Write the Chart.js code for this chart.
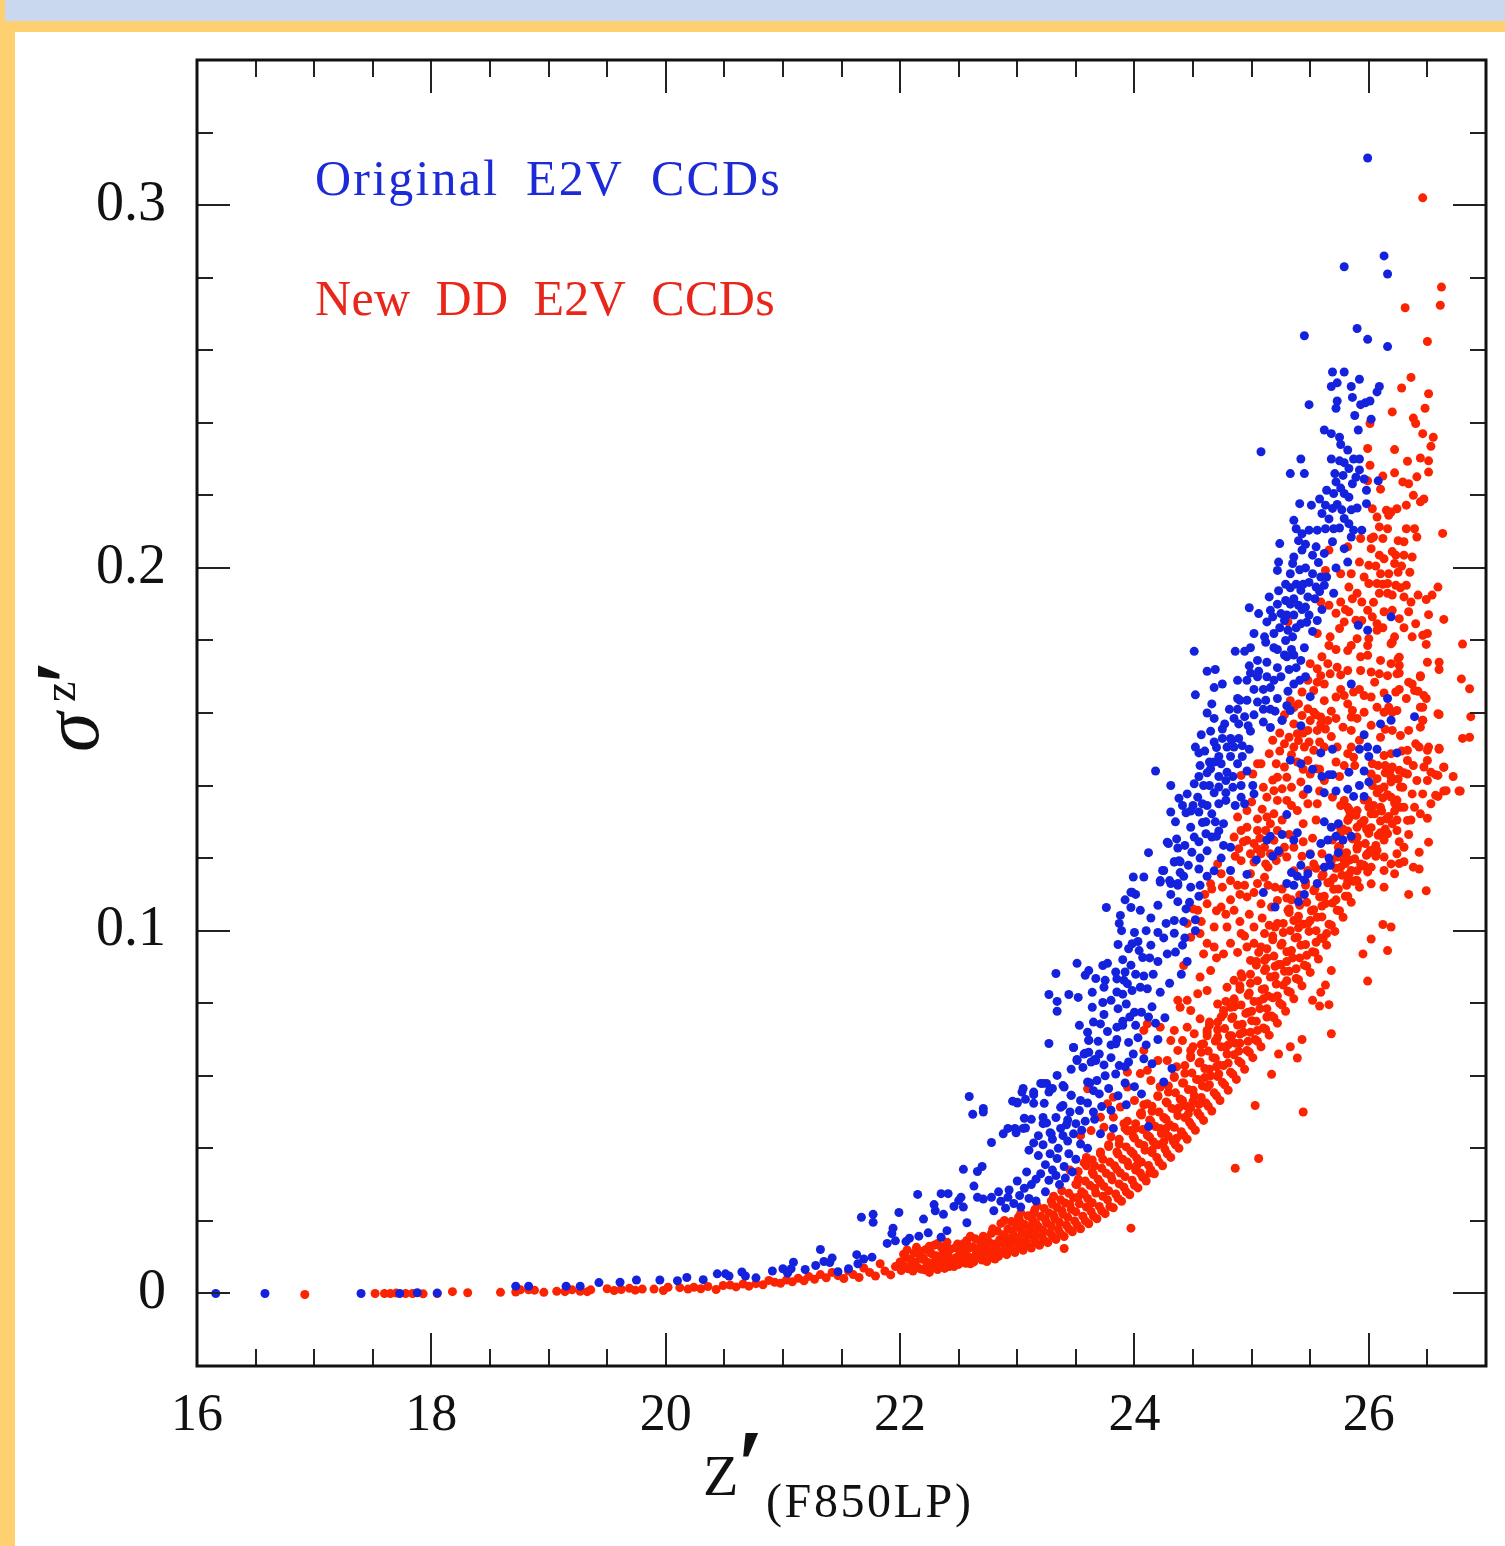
<!DOCTYPE html>
<html>
<head>
<meta charset="utf-8">
<title>z' photometric error</title>
<script src="https://cdn.jsdelivr.net/npm/chart.js@4"></script>
<style>
html, body { margin: 0; padding: 0; background: #ffd070; }
#band { position: absolute; left: 5px; top: 0; width: 1500px; height: 21px; background: #c9d8ee; }
#panel { position: absolute; left: 15px; top: 32px; width: 1490px; height: 1514px; background: #fff; }
#wrap { position: absolute; left: 0; top: 0; width: 1505px; height: 1546px; }
</style>
</head>
<body>
<div id="band"></div>
<div id="panel"></div>
<div id="wrap"><canvas id="chart" width="1505" height="1546"></canvas></div>
<script>
// Tick values
const xMajorTicks = [16, 18, 20, 22, 24, 26];
const xMinorTicks = [16.5, 17, 17.5, 18.5, 19, 19.5, 20.5, 21, 21.5, 22.5, 23, 23.5, 24.5, 25, 25.5, 26.5];
const yMajorTicks = [0, 0.1, 0.2, 0.3];
const yMinorTicks = [0.02, 0.04, 0.06, 0.08, 0.12, 0.14, 0.16, 0.18, 0.22, 0.24, 0.26, 0.28, 0.32];

// [z', sigma]
const originalCcds = [
[16.16,0],[16.58,0],[17.4,0],[17.73,0],[17.88,.0002],[18.05,.0001],[18.72,.002],[18.83,.002],[19.15,.002],[19.27,.002],[19.43,.003],
[19.61,.0031],[19.75,.0037],[19.95,.0037],[20.1,.0035],[20.18,.0044],[20.32,.0038],[20.44,.0054],[20.51,.0054],[20.54,.0048],[20.65,.0059],[20.68,.0048],[20.77,.0043],[20.91,.0062],[21,.0068],[21.04,.0056],[21.09,.0086],[21.07,.0068],[21.19,.0066],[21.28,.0077],[21.32,.0121],[21.35,.0088],[21.42,.0098],[21.4,.0085],[21.47,.006],[21.56,.0068],[21.63,.0107],[21.64,.0082],[21.69,.0095],[21.76,.01],
[21.67,.021],[21.77,.0218],[21.77,.0196],[21.99,.0223],[21.94,.018],[21.93,.0165],[21.89,.0138],[21.96,.0145],[22.05,.0143],[22.08,.0152],[22.16,.0158],[22.2,.0205],[22.24,.0167],[22.29,.0245],[22.3,.0228],[22.37,.0218],[22.35,.0155],[22.4,.0173],[22.46,.024],[22.5,.0256],[22.52,.0265],[22.57,.0195],[22.54,.0238],[22.66,.0265],[22.71,.026],[22.78,.0265],[22.84,.028],[22.86,.0254],[22.92,.0265],[22.8,.0228],[22.63,.0296],[22.15,.0273],[22.35,.0275],[22.41,.0275],
[22.59,.0543],[22.62,.0494],[22.71,.051],[22.71,.05],[22.78,.0416],[22.54,.0342],[22.66,.0336],[22.7,.035],[22.92,.0455],[22.88,.044],[22.99,.0443],[23,.0525],[23.05,.0565],[23.07,.0535],[22.96,.053],[23,.0527],[23.04,.0555],[23.14,.0548],[23.14,.0524],[23.22,.0579],[23.25,.0579],[23.27,.0555],[23.3,.0565],[23.23,.0524],[23.39,.0573],[23.39,.0518],[23.46,.0546],[23.27,.0689],[23.48,.0678],[23.51,.0642],[23.58,.0662],[23.61,.0698],[23.66,.0645],
[23.05,.0455],[23.12,.048],[23.18,.0435],[23.25,.047],[23.3,.0425],[23.1,.0395],[23.18,.038],[23.28,.0385],[23.35,.04],[23.43,.042],[23.2,.033],[23.3,.034],[23.4,.035],[23.08,.0335],[23,.031],[23.12,.03],[22.93,.0285],[23.02,.027],[23.24,.028],[23.36,.03],[23.5,.037],[23.6,.04],[23.55,.045],[23.45,.05],[23.65,.05],[23.7,.055],[23.75,.06],[23.62,.058],[23.8,.065],[23.85,.07],[23.9,.075],[23.7,.066],[23.37,.0455],[23.06,.0483],[23.22,.0485],[23.22,.0468],[22.98,.0455],[23.07,.0456],[23.28,.0443],[23.29,.044],
[23.76,.1064],[23.98,.1106],[23.97,.1064],[24.05,.1056],[24.2,.107],[23.88,.1042],[23.87,.102],[23.89,.1],[24.1,.1],[24,.0995],[23.86,.0962],[23.98,.0964],[23.95,.095],[24.03,.097],[24.25,.098],[24.34,.1028],[24.34,.0993],[24.14,.096],[24.28,.0936],[24.35,.0941],[24.41,.096],[24.07,.0926],[23.51,.091],[23.33,.0882],[23.61,.089],[23.58,.0877],[23.73,.0904],[23.77,.091],[23.67,.0868],[23.75,.0863],[23.84,.0886],[23.85,.0867],[23.92,.0886],[23.91,.0863],[24.01,.088],[23.74,.0844],[23.94,.0854],[23.85,.0831],[24.05,.0844],[24.11,.084],[23.27,.0824],[23.44,.0824],[23.52,.0816],[23.34,.0805],[23.34,.0778],[23.64,.083],[23.73,.0802],[23.64,.0789],[23.74,.0769],[23.86,.0785],[23.93,.0798],[24,.0775],[23.53,.0739],[23.65,.0748],[23.71,.0743],[23.6,.072],[23.85,.0734],[23.9,.0739],[24.01,.0739],[23.61,.0698],[23.84,.0688],[23.48,.0678],[23.57,.066],[23.61,.0665],[23.51,.0645],[23.63,.0638],[23.67,.0642],[23.56,.0623],[23.46,.0618],[23.87,.0628],[23.95,.0638],[23.99,.066],[24.08,.0647],[24.15,.0633],[23.34,.0601],[23.2,.0579],[23.28,.0564],[23.14,.0555],[23.4,.0569],[23.46,.0546],[23.37,.0513],[23.6,.0583],[23.68,.0587],[23.65,.0559],[23.54,.0532],[23.53,.0504],[23.5,.0468],[23.42,.0465],[23.66,.048],[23.71,.044],[23.82,.0455],[23.93,.052],[24,.057],[23.92,.058],[24.06,.055],[24.12,.046],
[24.25,.0583],[24.32,.062],[24.2,.07],[24.26,.076],[24.15,.079],[24.22,.083],[24.3,.0855],[24.4,.088],[24.45,.0915],[24.43,.098],[24.52,.1],
[23.99,.1148],[24.08,.1148],[24.12,.1215],[24.29,.124],[24.34,.119],[24.39,.119],[24.25,.1166],[24.3,.1138],[24.37,.113],[24.31,.11],[24.22,.1138],[23.97,.1106],[24.01,.11],[24.37,.108],[24.48,.112],[24.56,.1125],[24.44,.106],[24.52,.103],
[24.51,.177],[24.86,.177],[24.94,.177],[24.99,.178],[24.62,.1715],[24.69,.172],[24.68,.167],[24.75,.168],[24.52,.165],[24.62,.16],[24.81,.161],[24.88,.169],[24.96,.169],[24.98,.173],[25.05,.1745],[25.13,.174],[24.99,.171],[25.05,.17],[25.13,.17],[25.19,.169],[25.25,.17],[25.28,.176],[25.36,.176],[25.42,.1745],[25.19,.178],[25.29,.18],[24.88,.164],[24.96,.1635],[25.05,.163],[25.12,.1635],[25.22,.164],[25.31,.166],[25.1,.161],[25.16,.161],[24.88,.161],[24.94,.159],[24.89,.157],[25.16,.156],[25.26,.158],[24.57,.154],[24.65,.155],[24.75,.1556],[24.52,.1506],[24.55,.149],[24.68,.152],[24.75,.153],[24.82,.153],[24.89,.153],[24.99,.155],[24.79,.1506],[24.85,.1506],[24.92,.151],[24.98,.15],[24.72,.148],[24.82,.148],[24.92,.148],[24.64,.1465],[24.68,.1465],[24.65,.1446],[24.56,.1455],[24.18,.144],[24.31,.14],[24.51,.1405],[24.59,.14],[24.64,.14],[24.45,.1377],[24.79,.1437],[24.78,.1414],[24.72,.1396],[24.78,.138],[24.91,.14],[25.01,.14],[25.02,.1377],[24.91,.1368],[24.78,.1359],[24.72,.135],[24.94,.135],[24.54,.1368],[24.58,.135],[24.31,.1327],[24.41,.1345],[24.48,.133],[24.55,.1327],[24.66,.1322],[24.35,.13],[24.48,.1285],[24.61,.13],[24.69,.13],[24.76,.1295],[24.61,.1267],[24.66,.1258],[24.51,.1258],[24.28,.1244],[24.36,.1253],[24.37,.1228],[24.49,.1216],[24.56,.12],[24.38,.1193],[24.34,.1189],[24.55,.117],[24.24,.1166],[24.39,.116],[24.22,.1134],[24.31,.113],[24.37,.1125],[24.62,.122],[24.7,.126],[24.74,.12],
[25.33,.1607],[25.26,.158],[25.41,.169],[25.85,.168],[26.16,.164],[26.39,.159],[26.1,.157],[26.19,.158],[25.96,.154],[25.99,.1506],[25.92,.15],[26.07,.15],[26,.148],[26.24,.149],[25.69,.15],[25.59,.149],[25.33,.147],[25.42,.146],[25.83,.1437],[25.69,.143],[25.96,.144],[26,.141],[25.92,.14],[25.87,.137],[25.96,.137],[25.62,.138],[25.82,.139],[25.66,.143],[25.62,.13],[25.72,.126],[25.78,.125],[25.65,.125],[25.59,.124],[25.85,.126],[25.39,.127],[25.36,.125],[25.23,.122],[25.42,.118],[25.39,.115],[25.45,.114],[25.36,.1125],[25.48,.1157],[25.3,.113],[25.66,.12],[25.67,.118],[25.62,.1175],[25.3,.132],[25.16,.126],[25.13,.125],[24.82,.123],[24.82,.1166],[25.4,.108],[25.45,.11],[25.34,.116],
[25.79,.229],[25.83,.2274],[25.92,.227],[25.89,.225],[25.86,.2232],[25.71,.226],[25.72,.2237],[25.76,.222],[25.79,.2205],[25.64,.2214],[25.98,.2214],[26.08,.224],[25.98,.2177],[25.41,.2177],[25.51,.2173],[25.58,.219],[25.63,.2173],[25.69,.2164],[25.77,.216],[25.85,.216],[25.6,.215],[25.79,.2136],[25.83,.2122],[25.7,.2108],[25.63,.2108],[25.56,.2104],[25.36,.2131],[25.38,.2108],[25.43,.2094],[25.49,.2104],[25.87,.2104],[25.94,.2104],[25.85,.2085],[25.24,.2067],[25.69,.2072],[25.55,.2058],[25.62,.204],[25.79,.2053],[25.82,.2016],[25.43,.2049],[25.36,.203],[25.35,.2012],[25.23,.2016],[25.22,.1993],[25.46,.2],[25.52,.1984],[25.59,.1975],[25.33,.1984],[25.29,.1955],[25.23,.1937],[25.55,.1947],[25.7,.193],[25.62,.1952],[25.42,.1938],[25.48,.192],[25.36,.1915],[25.4,.1897],[25.46,.1892],[25.15,.192],[25.29,.191],[24.98,.189],[25.06,.1874],[25.16,.1883],[25.25,.1874],[25.36,.187],[25.49,.187],[25.13,.1851],[25.31,.1828],[25.42,.1846],[25.19,.1819],[25.02,.1819],[25.11,.181],[25.35,.181],[26.19,.1865],[25.91,.1842],[25.99,.1828],[25.52,.1825],[25.56,.1855],[25.6,.1885],[25.45,.178],[25.3,.1755],[25.22,.1775],
[25.99,.313],[26.13,.286],[25.79,.283],[26.16,.281],[25.45,.264],[25.9,.266],[25.99,.263],[26.16,.261],[25.69,.254],[25.79,.254],[25.92,.252],[26.09,.25],[26.07,.2485],[25.68,.25],[25.73,.251],[25.85,.25],[25.49,.245],[25.73,.246],[25.72,.244],[25.86,.247],[26.01,.246],[25.93,.245],[25.97,.2455],[25.88,.242],[26.02,.241],[25.62,.238],[25.68,.237],[25.91,.238],[25.75,.236],[25.76,.234],[25.08,.232],[25.42,.23],[25.33,.226],[25.45,.226],[25.68,.23],[25.87,.23],[25.92,.23]
];

// denser patches of the blue cloud
const originalCcdsDense = [
[22.9,.0235],[22.97,.0248],[23.03,.0238],[23.1,.0262],[23.16,.0255],[23.06,.029],[23.16,.0315],[23.27,.0312],[23.33,.0325],[23.41,.0318],[23.47,.0335],[23.24,.0355],[23.34,.0372],[23.44,.0385],[23.54,.0412],[23.14,.0415],[23.22,.041],[23.39,.0435],[23.48,.044],[23.58,.0475],[23.33,.0485],[23.43,.0478],[23.6,.0525],[23.72,.0515],[23.8,.0505],[23.86,.0545],[23.78,.0565],[23.84,.0605],[23.92,.0625],[23.74,.063],[23.8,.0685],[23.69,.0695],[23.77,.0722],[23.95,.0692],[24.03,.0705],[24.1,.0685],[23.96,.0762],[24.06,.0775],[24.12,.0762],[24.18,.0745],[23.8,.0808],[23.9,.0825],[23.98,.0835],[24.08,.0875],[24.16,.088],[24.2,.0915],[24.13,.0925],[23.97,.0905],[23.9,.092],[24.04,.0945],[24.2,.0995],[24.27,.102],[24.14,.1035],[23.92,.1085],
[24.42,.1025],[24.47,.1078],[24.55,.1095],[24.42,.115],[24.46,.118],[24.43,.1235],[24.55,.1245],[24.68,.1165],[24.62,.115],[24.76,.1235],[24.72,.1275],[24.58,.1298],[24.44,.1325],[24.38,.1365],[24.5,.1345],[24.62,.1345],[24.68,.138],[24.55,.1425],[24.62,.1435],[24.72,.1425],[24.84,.1395],[24.86,.1345],[24.84,.1425],[24.96,.144],[24.88,.146],[24.74,.146],[24.6,.1495],[24.7,.1505],[24.83,.1525],[24.77,.157],[24.68,.1585],[24.85,.1585],[24.97,.1565],[24.9,.1635],[25.02,.1595],[25.1,.1575],[25.2,.1605],[25.02,.1665],[25.1,.1665],[25.16,.167],[25.22,.1725],[25.06,.1715],[25.32,.172],[25.36,.168],[25.3,.162],[24.66,.1625],
[25.12,.1795],[25.18,.1865],[25.24,.1835],[25.28,.1855],[25.22,.19],[25.3,.187],[25.33,.19],[25.38,.1835],[25.43,.1885],[25.47,.185],[25.33,.1945],[25.38,.1955],[25.44,.1955],[25.49,.196],[25.54,.1915],[25.58,.1935],[25.41,.1995],[25.52,.2035],[25.46,.2065],[25.4,.2075],[25.57,.2015],[25.64,.1975],[25.72,.2],[25.75,.211],[25.66,.2135],[25.73,.2175],[25.9,.2165],[25.83,.2195],[25.96,.2245],[25.7,.2205],[25.82,.2325],[25.78,.2255],[25.75,.2295],
[25.34,.1775],[25.38,.1725],[25.46,.17],[25.5,.1645],[25.42,.1565],[25.52,.1445],[25.48,.139],[25.6,.1425],[25.72,.1385],[25.74,.1295],[25.68,.1285],[25.74,.1215],[25.56,.113],[25.5,.121],[25.26,.1265],[25.18,.1205],[25.04,.1195],[24.96,.1155],[25.1,.1105],[25.2,.1065]
];

const newDdCcds = [
[16.92,-.0003],[17.52,0],[17.6,0],[17.65,0],[17.7,.0001],[17.78,0],[17.84,0],[17.93,-.0001],[18.05,0],[18.18,.0005],[18.31,.0002],[18.59,.0003],[18.72,.0004],[18.76,.001],[18.83,.001],[18.88,.0009],[18.96,.0003],[19.07,.0006],[19.14,.0005],[19.2,.001],[19.27,.0006],[19.33,.0005],[19.36,.001],
[19.5,.0013],[19.56,.0008],[19.62,.0011],[19.69,.0014],[19.74,.0009],[19.8,.0012],[19.9,.0012],[19.98,.0008],[20.02,.0017],[20.12,.0016],[20.19,.0012],[20.24,.0017],[20.3,.0013],[20.36,.0019],[20.43,.0011],[20.49,.0022],[20.55,.0023],[20.6,.0018],[20.66,.0026],[20.71,.002],[20.77,.0027],[20.83,.0024],[20.88,.0036],[20.93,.0031],[20.98,.0028],[21.03,.0037],[21.08,.0032],[21.13,.0042],[21.18,.0035],[21.22,.0047],[21.27,.0039],[21.32,.0052],[21.37,.0043],[21.42,.0058],[21.47,.0049],[21.52,.0041],[21.56,.0062],[21.6,.0052],[21.65,.0044],[21.69,.007],[21.74,.0058],[21.79,.0048],[21.83,.0082],[21.87,.0062],[21.92,.0051],[21.96,.0074],
[22.01,.0063],[22,.0087],[22.03,.0108],[22.07,.0068],[22.09,.0094],[22.06,.012],[22.15,.0071],[22.13,.0087],[22.17,.0104],[22.14,.0127],[22.21,.0065],[22.23,.0079],[22.2,.0098],[22.22,.0121],[22.28,.0072],[22.3,.009],[22.27,.0109],[22.29,.0133],[22.36,.0078],[22.34,.0096],[22.37,.0115],[22.35,.0128],[22.42,.0074],[22.44,.0088],[22.41,.0106],[22.43,.0122],[22.4,.0141],[22.5,.008],[22.48,.0099],[22.51,.0117],[22.49,.0136],[22.56,.0083],[22.58,.0102],[22.55,.0121],[22.57,.0146],[22.63,.0087],[22.65,.011],[22.62,.0129],[22.64,.0151],[22.7,.0092],[22.72,.0115],[22.69,.0134],[22.71,.0158],[22.77,.0098],[22.79,.0119],[22.76,.0141],[22.78,.0166],[22.84,.0102],[22.82,.0126],[22.85,.0148],[22.83,.0172],[22.86,.0193],
[22.91,.0107],[22.93,.0132],[22.9,.0155],[22.92,.0178],[22.89,.0201],[22.98,.0113],[23,.0138],[22.97,.0159],[22.99,.0186],[23.01,.021],[23.05,.0119],[23.07,.0143],[23.04,.0168],[23.06,.0191],[23.03,.0222],[23.12,.0125],[23.14,.0151],[23.11,.0176],[23.13,.0203],[23.15,.0231],[23.19,.0133],[23.21,.0158],[23.18,.0184],[23.2,.0213],[23.17,.0242],[23.26,.014],[23.28,.0167],[23.25,.0195],[23.27,.0222],[23.29,.0255],[23.33,.0149],[23.35,.0177],[23.32,.0206],[23.34,.0237],[23.31,.0268],[23.4,.0124],[23.4,.0157],[23.42,.0188],[23.39,.0218],[23.41,.0249],[23.38,.0283],
[23.47,.017],[23.49,.02],[23.46,.0232],[23.48,.0264],[23.5,.0301],[23.45,.034],[23.54,.0178],[23.56,.0213],[23.53,.0247],[23.55,.028],[23.52,.0315],[23.57,.036],[23.61,.0192],[23.63,.0226],[23.6,.0262],[23.62,.0298],[23.64,.0334],[23.59,.0375],[23.68,.0206],[23.7,.024],[23.67,.0277],[23.69,.0315],[23.66,.0352],[23.71,.039],[23.75,.022],[23.77,.0258],[23.74,.0295],[23.76,.0331],[23.73,.037],[23.78,.041],[23.82,.0236],[23.84,.0274],[23.81,.0313],[23.83,.0352],[23.85,.039],[23.8,.0432],[23.89,.0254],[23.91,.0293],[23.88,.0332],[23.9,.037],[23.87,.0412],[23.92,.0455],[23.97,.018],[23.96,.0272],[23.98,.0312],[23.95,.0352],[23.97,.0392],[23.99,.0433],[23.94,.0475],
[24.03,.0291],[24.05,.0332],[24.02,.0373],[24.04,.0413],[24.01,.0455],[24.06,.0498],[24.1,.031],[24.12,.0353],[24.09,.0395],[24.11,.0436],[24.13,.0478],[24.08,.052],[24.17,.033],[24.19,.0375],[24.16,.0418],[24.18,.046],[24.15,.0502],[24.2,.0545],[24.24,.0352],[24.26,.0398],[24.23,.0441],[24.25,.0485],[24.27,.0528],[24.22,.057],[24.31,.0375],[24.33,.042],[24.3,.0465],[24.32,.051],[24.29,.0555],[24.34,.0595],[24.38,.04],[24.4,.0446],[24.37,.049],[24.39,.0536],[24.41,.058],[24.36,.0625],[24.45,.0425],[24.47,.0472],[24.44,.0517],[24.46,.0562],[24.43,.0607],[24.48,.065],[24.52,.045],[24.54,.0498],[24.51,.0545],[24.53,.059],[24.55,.0635],[24.5,.068],[24.59,.0477],[24.61,.0525],[24.58,.0572],[24.6,.062],[24.57,.0665],[24.62,.071],[24.66,.0503],[24.68,.0553],[24.65,.06],[24.67,.065],[24.69,.0696],[24.64,.074],[24.73,.0532],[24.75,.0582],[24.72,.063],[24.74,.068],[24.71,.0727],[24.76,.077],[24.8,.056],[24.82,.061],[24.79,.066],[24.81,.071],[24.83,.0758],[24.78,.0805],[24.87,.059],[24.89,.064],[24.86,.069],[24.88,.074],[24.85,.079],[24.9,.0838],[24.86,.0345],[24.94,.0618],[24.96,.067],[24.93,.072],[24.95,.0772],[24.97,.0822],[24.92,.0872],
[25.01,.065],[25.03,.07],[25,.0752],[25.02,.0805],[24.99,.0855],[25.04,.0905],[25.06,.0372],[25.03,.0518],[25.08,.068],[25.1,.0732],[25.07,.0785],[25.09,.0838],[25.11,.089],[25.06,.094],[25.15,.0712],[25.17,.0765],[25.14,.082],[25.16,.0872],[25.13,.0925],[25.18,.0975],[25.17,.0604],[25.22,.0745],[25.24,.08],[25.21,.0853],[25.23,.0907],[25.25,.096],[25.2,.101],[25.23,.066],[25.29,.0778],[25.31,.0833],[25.28,.0888],[25.3,.0942],[25.27,.0995],[25.32,.105],[25.33,.068],[25.39,.0649],[25.36,.0812],[25.38,.0868],[25.35,.0925],[25.37,.098],[25.39,.1032],[25.34,.1085],[25.44,.05],[25.43,.07],[25.43,.0848],[25.45,.0905],[25.42,.096],[25.44,.1018],[25.41,.107],[25.46,.1125],[25.5,.0885],[25.52,.0942],[25.49,.0998],[25.51,.1055],[25.53,.111],[25.52,.0808],[25.58,.0792],[25.59,.083],[25.57,.0922],[25.59,.098],[25.56,.1037],[25.58,.1093],[25.6,.115],[25.63,.085],[25.66,.0796],[25.68,.0716],[25.68,.089],[25.64,.096],[25.66,.1018],[25.63,.1075],[25.65,.1132],[25.67,.119],[25.71,.0998],[25.73,.1056],[25.7,.1114],[25.72,.1172],[25.74,.123],[25.78,.1037],[25.8,.1095],[25.77,.1153],[25.79,.1212],[25.76,.127],[25.85,.1078],[25.87,.1136],[25.84,.1195],[25.86,.1253],[25.83,.131],[25.92,.112],[25.94,.1178],[25.91,.1237],[25.93,.1295],[25.99,.0861],[25.95,.0936],[26.02,.0977],[25.99,.1162],[26.01,.122],[25.98,.128],[26,.134],[26.06,.1205],[26.08,.1263],[26.05,.1322],[26.07,.138],[26.16,.0945],[26.12,.1017],[26.19,.101],[26.13,.125],[26.15,.1308],[26.12,.1366],[26.2,.1295],[26.22,.1352],[26.19,.141],[26.27,.134],[26.29,.1395],[26.26,.1245],
[26.34,.11],[26.49,.111],[26.43,.117],[26.43,.1216],[26.51,.1244],[26.3,.119],[26.5,.131],[26.78,.1385],[26.64,.1385],[26.59,.137],[26.64,.145],[26.57,.143],[26.51,.1506],[26.6,.15],[26.8,.153],[26.86,.1533],[26.87,.159],[26.6,.1596],[26.46,.158],[26.86,.1667],[26.79,.1694],[26.8,.179],[26.5,.174],[26.6,.174],[26.6,.172],[26.44,.17],[26.37,.168],[26.42,.166],[26.49,.164],[26.44,.1616],[26.25,.175],[26.26,.171],
[26.46,.302],[26.62,.2774],[26.61,.2724],[26.31,.2717],[26.5,.2624],[26.36,.2525],[26.28,.2496],[26.51,.248],[26.48,.244],[26.2,.243],[26.38,.2413],[26.4,.2398],[26.01,.2398],[26.46,.237],[26.55,.236],[26.53,.2335],[25.99,.2329],[26.22,.2326],[26.44,.2303],[26.51,.2295],[26.33,.2294],[26.01,.2283],[26.51,.2264],[26.22,.2262],[26.12,.2253],[26.41,.2251],[26.29,.2237],[26.34,.2232],[25.99,.224],[26.1,.2217],[26.38,.22],[26.47,.219],[26.44,.2182],[26.32,.2173],[26.24,.2163],[26.19,.2154],[26.15,.2159],[26.03,.2163],[26.07,.214],[26.63,.2095],[26.32,.2108],[26.39,.2108],[26.41,.2085],[26.3,.2072],[26.09,.2113],[26.16,.2108],[25.93,.2081],[26.02,.2081],[26.12,.2081],[25.82,.2058],[25.66,.2049],[26.02,.2053],[26.09,.2035],[26.23,.2035],[26.3,.2035],[26.37,.203],[25.92,.2016],[26,.2007],[26.22,.2012],[25.63,.1993],[25.76,.1984],[25.85,.1984],[26.1,.1984],[26.17,.1984],[26.25,.1988],[26.35,.1988],[26,.1957],[26.07,.1957],[26.16,.1957],[26.23,.1952],[25.83,.1947],[26.32,.1952],[26.59,.1947],[25.9,.193],[25.94,.1906],[25.99,.1883],[26.03,.1865],[26.09,.193],[26.16,.193],[26.3,.192],[26.54,.1925],[26.49,.1913],[25.59,.1906],[25.66,.1897],[25.76,.1906],[26.36,.1906],[26.13,.1879],[26.2,.1883],[26.26,.186],[26.34,.1879],[26.51,.1871],[26.64,.1858],[25.83,.1879],[25.79,.1851],[25.75,.1833],[25.89,.1856],[25.31,.1851],[26.4,.1846],[25.56,.1819],[25.67,.181],[26.07,.1846],[26.07,.1828],[26.22,.181],[26.37,.181],[26.46,.1814],[26.5,.1819],
[25.66,.1786],[25.85,.1786],[25.82,.1772],[25.99,.1786],[25.99,.1759],[26.19,.1791],[26.49,.1789],[26.1,.1745],[26.26,.1754],[26.19,.1736],[26.26,.1731],[25.65,.1736],[25.56,.1722],[25.73,.1726],[25.67,.1708],[25.59,.1703],[25.5,.1736],[25.82,.1717],[25.93,.1717],[26.02,.1713],[26.09,.1708],[26.16,.1703],[26.24,.1708],[26.44,.1703],[25.48,.169],[25.56,.1685],[25.43,.1658],[25.53,.1662],[25.62,.168],[26.34,.1685],[26.39,.1662],[26.47,.1648],[26.23,.1658],[26.32,.164],[26.17,.1616],[26.46,.1616],[25.87,.1658],[25.96,.1648],[26.02,.1644],[26.07,.1616],[25.82,.1625],[25.86,.1607],[25.72,.1644],[25.62,.1634],[25.79,.1648],[25.33,.1634],[25.4,.1625],[25.48,.1612],[25.53,.1602],[25.59,.1589],[25.65,.1579],[25.43,.1593],[25.5,.1579],[25.59,.157],[25.36,.157],[25.39,.1543],[25.48,.1552],[25.56,.1552],[25.63,.1556],[25.32,.1533],[25.4,.1524],[25.49,.152],[25.58,.152],[25.28,.1515],[25.36,.1506],[25.45,.1506],[25.53,.1497],[25.62,.1506],[25.85,.1589],[25.78,.1561],[25.85,.1552],[25.96,.1602],[26.02,.1566],[26.13,.1602],[26.2,.1602],[26.24,.1607],[26.46,.158],[26.44,.1561],[26.59,.1598],[26.2,.1552],[26.27,.1538],[26.34,.1552],[26.1,.1533],[25.85,.1506],[25.82,.1488],[25.87,.1478],[25.79,.1455],[25.73,.1506],[26.13,.1483],[26.19,.1488],[26.33,.1497],[26.33,.1469],[26.43,.1506],[26.5,.1497],[26.6,.1503],[26.5,.1469],[25.15,.1488],[25.21,.146],[25.08,.146],[25.05,.146],[25.28,.1451],[25.39,.1465],[25.48,.1469],[25.55,.1446],[24.91,.1428],[25.01,.1432],[25.22,.1423],[25.3,.1423],[25.42,.141],[25.5,.1432],[25.62,.1414],[26.03,.146],[26.02,.1432],[26.07,.1419],[26.13,.1396],[26.2,.1451],[26.26,.1442],[26.19,.1423],[26.33,.1432],[26.41,.1414],[26.47,.1451],[26.53,.1437],[26.59,.1428],[26.64,.1451],[26.5,.1414],[26.46,.1377],[26.37,.1377],[26.27,.1396],[26.19,.1368],[25.19,.1386],[25.26,.1391],[25.13,.1368],[25.22,.1359],[25.3,.1359],[25.39,.1331],[25.48,.135],[25.56,.135],[25.69,.1368],[25.79,.1359],[25.99,.1359],[26.1,.134],[26.3,.134],[26.39,.134],[26.44,.1322],[26.33,.1304],[26.24,.1276],[26.16,.1267],[26.57,.1373],[26.53,.135],[26.66,.1386],[26.77,.1385],
[25.82,.134],[25.9,.1331],[26.02,.1322],[25.82,.1304],[25.78,.128],[25.9,.1285],[25.96,.1304],[24.96,.1331],[24.88,.1313],[25.05,.1308],[25.13,.1313],[25.19,.1322],[24.96,.1285],[24.91,.1276],[25.05,.1276],[25.12,.1276],[25.22,.1276],[24.85,.1258],[24.96,.1249],[25.02,.124],[25.11,.123],[25.19,.1249],[24.89,.1226],[24.99,.1212],[25.08,.1212],[25.16,.1212],[24.91,.1193],[25.02,.1189],[25.12,.1184],[25.21,.1193],[25.28,.123],[25.36,.123],[25.3,.1203],[25.5,.1212],[25.53,.1184],[25.48,.1166],[24.71,.1184],[24.74,.1157],[24.65,.1129],[24.82,.1138],[24.88,.1125],[24.99,.1157],[25.11,.1147],[25.9,.123],[25.99,.1212],[26.07,.1221],[26.13,.1203],[26.19,.1184],[26.24,.1212],[26.3,.123],[25.93,.1184],[26.02,.1175],[26.13,.1166],[26.22,.1157],[25.85,.1166],[25.79,.1193],[25.73,.1203],[25.9,.1138],[26.02,.1129],[26.13,.112],[25.82,.1138],
[24.45,.102],[24.54,.1056],[24.62,.1074],[24.74,.1065],[24.85,.1056],[24.96,.1093],[25.08,.1074],[25.22,.1083],[25.31,.1056],[25.36,.1028],[24.56,.0992],[24.48,.0982],[24.68,.101],[24.79,.101],[24.68,.0955],[24.76,.0936],[24.59,.0936],[24.91,.0992],[25.02,.101],[25.11,.0992],[25.08,.0955],[24.96,.0955],[24.99,.0918],[25.22,.102],[25.11,.0918],[24.6,.11],[24.75,.112],[24.9,.11],[25.05,.113],[25.2,.112],[25.3,.109],[24.5,.106],
[24.42,.0904],[24.56,.0872],[24.65,.089],[24.85,.0863],[24.91,.0881],[24.79,.0844],[24.71,.0798],[24.45,.0808],[24.54,.0826],[24.37,.0808],[24.48,.078],[24.39,.0789],[24.62,.0835],[24.85,.0808],[24.82,.0789],[24.74,.0762],[24.56,.0757],[24.64,.0748],[24.45,.0734],[24.34,.0725],[24.22,.0734],[24.11,.0743],[24.08,.0725],[24.31,.0697],[24.41,.0697],[24.51,.0716],[24.62,.0725],[24.71,.0707],[24.82,.0707],[24.59,.0688],[24.48,.067],[24.37,.067],[24.08,.067],[24.2,.0642],[24.28,.0642],[24.11,.0615],[23.94,.061],[24.05,.0606],[24.14,.0587],[24.22,.0569],[23.94,.0569],[23.82,.0541],[24,.0532],[24.11,.0523],[23.77,.0523],[23.71,.0486],[23.6,.0564],[23.82,.0486],[23.91,.0468],[24.05,.0495],[23.74,.0458],[23.63,.0449],[23.54,.0435],[23.97,.0449],[23.88,.0514]
];

// the solid lower ridge of the red band, filled in
const newDdCcdsRidge = [
[22.04,.0075],[22.05,.0099],[22.11,.0062],[22.1,.0081],[22.12,.0112],[22.18,.0067],[22.19,.0094],[22.17,.0116],[22.25,.0058],[22.24,.0085],[22.26,.0112],[22.25,.013],[22.32,.0066],[22.33,.0083],[22.31,.0104],[22.32,.0138],[22.38,.0069],[22.39,.0092],[22.4,.012],[22.46,.0074],[22.45,.0093],[22.47,.0126],[22.53,.0091],[22.52,.0112],[22.54,.0137],[22.6,.0082],[22.61,.0095],[22.59,.0125],[22.6,.0158],[22.67,.0099],[22.66,.0121],[22.68,.0145],[22.74,.0088],[22.75,.0108],[22.73,.0127],[22.74,.015],[22.81,.0095],[22.8,.0113],[22.81,.0136],[22.79,.0178],[22.88,.0116],[22.87,.0138],[22.88,.0162],[22.86,.0112],
[22.95,.0121],[22.94,.0146],[22.96,.017],[22.95,.0198],[23.02,.0128],[23.01,.0152],[23.03,.0178],[23.02,.0201],[23.09,.0134],[23.08,.0159],[23.1,.0184],[23.09,.0214],[23.16,.014],[23.15,.0166],[23.16,.0193],[23.14,.0222],[23.23,.0146],[23.22,.0174],[23.24,.0203],[23.23,.0234],[23.3,.0158],[23.29,.0186],[23.31,.0216],[23.3,.0246],[23.37,.0165],[23.36,.0196],[23.38,.0228],[23.37,.0258],[23.44,.0178],[23.43,.021],[23.45,.0245],[23.44,.0276],[23.51,.0189],[23.5,.0225],[23.52,.0265],[23.51,.03],[23.52,.0336],
[23.58,.02],[23.59,.0238],[23.57,.0275],[23.58,.031],[23.59,.0352],[23.65,.0213],[23.64,.025],[23.66,.029],[23.65,.0328],[23.64,.0368],[23.72,.0228],[23.73,.0268],[23.71,.0305],[23.72,.0345],[23.71,.0385],[23.79,.024],[23.78,.0283],[23.8,.0323],[23.79,.0362],[23.78,.0405],[23.86,.0262],[23.87,.0302],[23.85,.0342],[23.86,.0384],[23.87,.0425],[23.93,.028],[23.92,.0322],[23.94,.0362],[23.93,.0404],[23.94,.0448],[24,.0298],[24.01,.034],[23.99,.0385],[24,.0428],[24.01,.0468],[24.07,.032],[24.06,.0362],[24.08,.0408],[24.07,.0452],[24.06,.0492],
[24.14,.0341],[24.15,.0388],[24.13,.0431],[24.14,.0475],[24.15,.0516],[24.21,.0362],[24.2,.041],[24.22,.0455],[24.21,.05],[24.2,.0543],[24.28,.0385],[24.29,.0433],[24.27,.048],[24.28,.0525],[24.29,.0572],[24.35,.041],[24.34,.0458],[24.36,.0505],[24.35,.0553],[24.34,.0598],[24.42,.0436],[24.43,.0485],[24.41,.0532],[24.42,.058],[24.43,.0628],[24.49,.0462],[24.48,.0512],[24.5,.056],[24.49,.0608],[24.48,.0655],[24.56,.049],[24.57,.054],[24.55,.0589],[24.56,.0638],[24.57,.0686],[24.63,.0516],[24.62,.0568],[24.64,.0618],[24.63,.0668],[24.62,.0718],[24.7,.0545],[24.71,.0598],[24.69,.0648],[24.7,.0698],[24.71,.0748],[24.77,.0575],[24.76,.0628],[24.78,.0679],[24.77,.073],[24.76,.078],[24.84,.0604],[24.85,.0658],[24.83,.071],[24.84,.0762],[24.85,.0812],[24.91,.0635],[24.9,.069],[24.92,.0742],[24.91,.0795],[24.9,.0848],[24.98,.0665],[24.99,.072],[24.97,.0775],[24.98,.0828],[24.99,.088],
[25.05,.0695],[25.04,.075],[25.06,.0805],[25.05,.0862],[25.04,.0915],[25.12,.0728],[25.13,.0785],[25.11,.084],[25.12,.0895],[25.13,.095],[25.19,.076],[25.18,.0815],[25.2,.0875],[25.19,.093],[25.18,.0985],[25.26,.0795],[25.27,.085],[25.25,.0907],[25.26,.0965],[25.27,.102],[25.33,.083],[25.32,.0888],[25.34,.0945],[25.33,.1],[25.32,.106],[25.4,.0865],[25.41,.0925],[25.39,.0982],[25.4,.104],[25.41,.1098],[25.47,.0902],[25.46,.0962],[25.48,.102],[25.47,.1078],[25.46,.1135],[25.54,.094],[25.55,.1],[25.53,.1058],[25.54,.1115],[25.55,.1172],[25.61,.0978],[25.6,.1038],[25.62,.1095],[25.61,.1155],[25.6,.1212],[25.68,.1015],[25.69,.1076],[25.67,.1134],[25.68,.1192],[25.69,.125],[25.75,.1055],[25.74,.1115],[25.76,.1175],[25.75,.1233],[25.74,.129],[25.82,.1095],[25.83,.1155],[25.81,.1215],[25.82,.1275],[25.83,.1335],[25.89,.1138],[25.88,.1198],[25.9,.1258],[25.89,.1318],[25.96,.118],[25.97,.124],[25.95,.13],[25.96,.136],[26.03,.1222],[26.02,.1284],[26.04,.1345],[26.03,.14],[26.1,.127],[26.11,.133],[26.09,.139],[26.17,.1315],[26.16,.1375],[26.18,.144],[26.24,.136],[26.25,.1418],
[24.02,.0352],[24.13,.0332],[24.25,.0418],[24.36,.0428],[24.46,.0495],[24.55,.0521],[24.64,.0575],[24.72,.0605],[24.8,.0635],[24.89,.0668],[24.97,.0695],[25.05,.0725],[25.13,.0762],[25.22,.082],[25.3,.0862],[25.38,.0895],[25.47,.0932],[25.55,.0968],[25.64,.0992],[25.72,.1085],[25.81,.1125],[25.9,.1165],[25.98,.1208],[26.06,.1235],[26.14,.128],[26.22,.133],
[24.15,.0395],[24.27,.0455],[24.38,.0512],[24.5,.053],[24.6,.0595],[24.7,.0625],[24.8,.0685],[24.9,.0715],[25,.0778],[25.1,.0812],[25.2,.0902],[25.3,.0915],[25.4,.1008],[25.5,.1028],[25.6,.1068],[25.7,.1145],[25.8,.1185],[25.9,.1225],[26,.1268],[26.1,.1302]
];

// red clumps inside the upper part of the cloud
const newDdCcdsCloud = [
[24.62,.0965],[24.7,.0925],[24.82,.0965],[24.88,.094],[24.94,.0985],[25.02,.0965],[25.15,.1015],[25.17,.1065],[25.09,.1035],[24.98,.1045],[24.9,.1025],[24.78,.1045],[24.7,.1055],[24.57,.1025],[24.66,.1115],[24.82,.1085],[24.94,.1125],[25.02,.1105],[25.14,.1125],[25.26,.1115],[25.36,.1165],[25.43,.1205],[25.24,.1215],[25.14,.1175],[25.05,.1225],[24.93,.1245],[24.86,.1205],[25.07,.1255],[25.16,.1295],[25.26,.1305],[25.34,.1345],[25.44,.1295],[25.55,.1305],[25.52,.1255],[25.44,.1245],[25.32,.1265],[25.09,.1335],[25,.1355],[25.1,.1395],[25.18,.1415],[25.34,.1395],[25.44,.1375],[25.58,.1385],[25.75,.1425],[25.84,.1325],[25.76,.1345],[25.88,.1455],[25.92,.1525],[25.72,.1465],[25.58,.1445],[25.44,.1445],[25.34,.1485],[25.24,.1495],[25.18,.1525],[25.24,.1545],[25.28,.1595],[25.36,.1615],[25.44,.1545],[25.55,.1595],[25.68,.1535],[25.72,.1585],[25.68,.1605],[25.76,.1665],[25.92,.1665],[25.9,.1585],[25.76,.1705],[25.6,.1755],[25.72,.1775],[25.9,.1805],[25.93,.1755],[26.05,.1685],[26.13,.1655],[26.26,.1665],[26.14,.1555],[26.28,.1495],[26.38,.1455],[26.3,.1435],[26.14,.1435],[26.08,.1455],[26.4,.1515],[26.24,.1305],[26.34,.1265],[26.38,.1175],[26.26,.1185],[26.14,.1455],[26.72,.1425],[26.36,.1305],[26.04,.1905],[26.12,.1955],[26.2,.1925],[26.27,.1945],[26.28,.2005],[26.13,.2025],[26.2,.2045],[26.06,.2005],[25.96,.1975],[26.04,.2085],[26.17,.2145],[26.25,.2075],[25.72,.1875],[25.8,.1885],[25.86,.1915],[25.94,.1855],[26,.1805],[26.12,.1835],[26.2,.1795],[26.3,.1835],[26.42,.1925]
];

const inwardTicks = {
    id: 'inwardTicks',
    afterDatasetsDraw(chart) {
        const { ctx, chartArea: a, scales: { x, y } } = chart;
        ctx.save();
        ctx.strokeStyle = '#222';
        ctx.lineWidth = 2;
        const drawX = (vals, len) => vals.forEach(v => {
            const p = Math.round(x.getPixelForValue(v));
            ctx.beginPath(); ctx.moveTo(p, a.bottom); ctx.lineTo(p, a.bottom - len);
            ctx.moveTo(p, a.top); ctx.lineTo(p, a.top + len); ctx.stroke();
        });
        const drawY = (vals, len) => vals.forEach(v => {
            const p = Math.round(y.getPixelForValue(v));
            ctx.beginPath(); ctx.moveTo(a.left, p); ctx.lineTo(a.left + len, p);
            ctx.moveTo(a.right, p); ctx.lineTo(a.right - len, p); ctx.stroke();
        });
        drawX(xMajorTicks, 33); drawX(xMinorTicks, 17);
        drawY(yMajorTicks, 33); drawY(yMinorTicks, 16);
        ctx.strokeStyle = '#111';
        ctx.lineWidth = 3;
        ctx.strokeRect(a.left, a.top, a.right - a.left, a.bottom - a.top);
        ctx.restore();
    }
};

const plotText = {
    id: 'plotText',
    afterDraw(chart) {
        const { ctx, data: { datasets } } = chart;
        ctx.save();
        ctx.textBaseline = 'alphabetic';
        ctx.textAlign = 'left';
        // series names inside the frame
        ctx.font = '50px "Liberation Serif"';
        ctx.wordSpacing = '12px';
        ctx.letterSpacing = '2.2px';
        ctx.fillStyle = '#1c2ad8';
        ctx.fillText(datasets[0].label, 315, 195);
        ctx.letterSpacing = '0.4px';
        ctx.fillStyle = '#e8261a';
        ctx.fillText(datasets[1].label, 315, 315);
        ctx.letterSpacing = '0px';
        ctx.wordSpacing = '0px';
        // x axis title
        ctx.fillStyle = '#111';
        ctx.font = '58px "Liberation Serif"';
        ctx.fillText('Z', 703, 1495);
        ctx.font = 'bold italic 100px "Liberation Serif"';
        ctx.fillText('\u2032', 735, 1498);
        ctx.font = '48px "Liberation Serif"';
        ctx.letterSpacing = '2.6px';
        ctx.fillText('(F850LP)', 766, 1517);
        ctx.letterSpacing = '0px';
        // y axis title
        ctx.translate(98, 752);
        ctx.rotate(-Math.PI / 2);
        ctx.font = 'italic 80px "Liberation Serif"';
        ctx.fillText('\u03c3', 0, 0);
        ctx.font = '46px "Liberation Serif"';
        ctx.fillText('z', 50, -23);
        ctx.font = 'bold italic 90px "Liberation Serif"';
        ctx.fillText('\u2032', 66, 0);
        ctx.restore();
    }
};

const toPoints = rows => rows.map(p => ({ x: p[0], y: p[1] }));

new Chart(document.getElementById('chart'), {
    type: 'scatter',
    data: {
        datasets: [
            { label: 'Original E2V CCDs', data: toPoints(originalCcds.concat(originalCcdsDense)), backgroundColor: '#1522dd', pointRadius: 4.5, borderWidth: 0 },
            { label: 'New DD E2V CCDs', data: toPoints(newDdCcds.concat(newDdCcdsRidge, newDdCcdsCloud)), backgroundColor: '#fb2300', pointRadius: 4.5, borderWidth: 0 }
        ]
    },
    options: {
        responsive: false,
        animation: false,
        layout: { padding: { left: 0, top: 60, right: 19, bottom: 0 } },
        plugins: { legend: { display: false }, tooltip: { enabled: false } },
        scales: {
            x: {
                type: 'linear', min: 16, max: 27,
                afterFit(scale) { scale.height = 180; },
                afterBuildTicks(scale) { scale.ticks = xMajorTicks.map(v => ({ value: v })); },
                grid: { display: false },
                border: { display: false },
                ticks: { color: '#111', font: { family: 'Liberation Serif', size: 52 }, padding: 11, maxRotation: 0, autoSkip: false }
            },
            y: {
                type: 'linear', min: -0.02, max: 0.34,
                afterFit(scale) { scale.width = 197; },
                afterBuildTicks(scale) { scale.ticks = yMajorTicks.map(v => ({ value: v })); },
                grid: { display: false },
                border: { display: false },
                ticks: { color: '#111', font: { family: 'Liberation Serif', size: 56 }, padding: 23, autoSkip: false, callback: v => String(v) }
            }
        }
    },
    plugins: [inwardTicks, plotText]
});
</script>
</body>
</html>
